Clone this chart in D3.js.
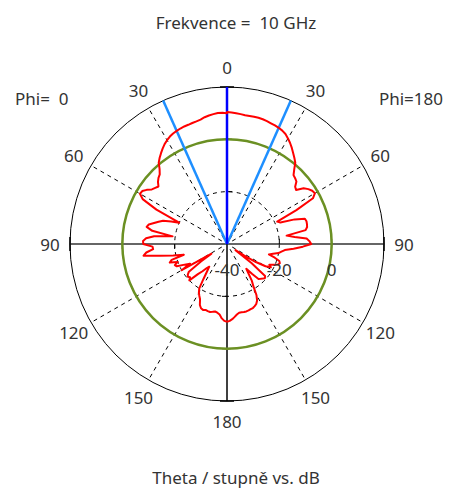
<!DOCTYPE html>
<html>
<head>
<meta charset="utf-8">
<script src="https://cdn.jsdelivr.net/npm/d3@7"></script>
<style>
  body { margin: 0; background: #fff; }
  text { font-family: "Noto Sans", "DejaVu Sans", sans-serif; fill: #333; }
</style>
</head>
<body>
<script>
//chart data
var titleText = "Frekvence =  10 GHz";
var xTitle = "Theta / stupně vs. dB";
var sideLabels = ["Phi=  0", "Phi=180"];
var angleTicks = [0, 30, 60, 90, 120, 150, 180];
var spokeAngles = [30, 60, 120, 150];
var dbTicks = [-40, -20, 0];
var markerMain = 0;          //dark blue marker
var markerBeam = [-24, 24];  //light blue markers

//theta in degrees, step 2
var theta = d3.range(0, 181, 2);

//gain in dB for Phi = 0 (drawn on the left)
var gainPhi0 = [10.0, 10.2, 10.2, 9.9, 9.6, 9.2, 8.6, 8.3, 8.1, 7.9,
    7.8, 7.6, 7.3, 7.0, 6.5, 5.8, 5.0, 4.0, 2.9, 1.8,
    0.6, -1.5, -3.0, -3.6, -4.5, -5.8, -5.2, -4.5, -3.0, -1.8,
    -1.6, -3.5, -10, -20, -17, -14, -12.5, -11, -9.2, -8.6,
    -11, -19, -12, -9, -7.9, -8, -11.5, -11.7, -9, -7.8,
    -14, -19, -23, -18, -17, -20, -18.5, -19, -22, -24,
    -20, -33, -28, -22, -21, -20.5, -21, -20, -24, -26,
    -28, -29, -27, -24, -20, -18.5, -17.5, -16.5, -14.5, -13.5,
    -13.2, -13.5, -13.3, -13.2, -13.5, -13.8, -13.5, -12.9, -11.5, -10.6,
    -10.3];

//gain in dB for Phi = 180 (drawn on the right)
var gainPhi180 = [10.4, 10.3, 10.1, 9.9, 9.7, 9.7, 9.7, 9.7, 9.6, 9.4,
    9.1, 8.9, 8.6, 8.2, 7.6, 6.6, 5.5, 4.3, 3.0, 1.8,
    0.6, -1.6, -3.4, -3.8, -4.3, -6.0, -6.5, -3.8, -2.5, -1.6,
    -1.2, -2.8, -10.5, -19, -18, -12.5, -8.7, -8.4, -8.5, -8.7,
    -9.5, -17, -14, -9.5, -8.5, -7.8, -11, -14.5, -17.8, -19,
    -20, -22, -23.5, -21, -19, -18.5, -19, -20.5, -22, -21,
    -23, -27, -32, -36, -28, -21, -20.5, -21, -21.5, -22,
    -25, -28, -26, -23, -21, -17.5, -15.5, -14.5, -14, -13.6,
    -13.5, -13.3, -13.2, -13.2, -13.3, -13.3, -12.8, -12, -11.2, -10.6,
    -10.3];

window.onload = drawChart();

function drawChart(){
    var width = 451,
        height = 492;
    var cx = 227, cy = 244, R = 157;

    var svg = d3.select("body")
        .append("svg")
        .attr("width", width)
        .attr("height", height);

    //radial scale in dB
    var r = d3.scaleLinear()
        .domain([-40, 20])
        .range([0, R]);

    var rad = function(deg){ return deg * Math.PI / 180; };

    var g = svg.append("g")
        .attr("transform", "translate(" + cx + "," + cy + ")");

    //dashed rings
    g.selectAll(".ring")
        .data(dbTicks.filter(function(d){ return d > -40; }))
        .enter()
        .append("circle")
        .attr("class", "ring")
        .attr("r", function(d){ return r(d); })
        .attr("fill", "none")
        .attr("stroke", "#000")
        .attr("stroke-width", 1)
        .attr("stroke-dasharray", "4,4");

    //dashed spokes on both sides
    var spokes = [];
    spokeAngles.forEach(function(a){ spokes.push(a); spokes.push(-a); });
    g.selectAll(".spoke")
        .data(spokes)
        .enter()
        .append("line")
        .attr("class", "spoke")
        .attr("x1", function(d){ return 6 * Math.sin(rad(d)); })
        .attr("y1", function(d){ return -6 * Math.cos(rad(d)); })
        .attr("x2", function(d){ return R * Math.sin(rad(d)); })
        .attr("y2", function(d){ return -R * Math.cos(rad(d)); })
        .attr("stroke", "#000")
        .attr("stroke-width", 1)
        .attr("stroke-dasharray", "4,4");

    //outer circle
    g.append("circle")
        .attr("r", R)
        .attr("fill", "none")
        .attr("stroke", "#000")
        .attr("stroke-width", 1);

    //main axes
    g.append("line")
        .attr("x1", -R).attr("x2", R)
        .attr("y1", 0).attr("y2", 0)
        .attr("stroke", "#333")
        .attr("stroke-width", 1.5);
    g.append("line")
        .attr("x1", 0).attr("x2", 0)
        .attr("y1", -R).attr("y2", R)
        .attr("stroke", "#000")
        .attr("stroke-width", 1.5);

    //small ticks on axes
    var tickR = [r(-20), r(0)];
    tickR.forEach(function(t){
        g.append("line").attr("x1", -t).attr("x2", -t).attr("y1", 0).attr("y2", 5).attr("stroke", "#000");
        g.append("line").attr("x1", t).attr("x2", t).attr("y1", 0).attr("y2", -5).attr("stroke", "#000");
        g.append("line").attr("x1", 0).attr("x2", -5).attr("y1", t).attr("y2", t).attr("stroke", "#000");
        g.append("line").attr("x1", 0).attr("x2", 5).attr("y1", -t).attr("y2", -t).attr("stroke", "#000");
    });
    //ticks at the outer circle
    g.append("line").attr("x1", -R).attr("x2", -R).attr("y1", -7).attr("y2", 7).attr("stroke", "#000").attr("stroke-width", 1.5);
    g.append("line").attr("x1", R).attr("x2", R).attr("y1", -7).attr("y2", 7).attr("stroke", "#000").attr("stroke-width", 1.5);
    g.append("line").attr("x1", -7).attr("x2", 7).attr("y1", -R).attr("y2", -R).attr("stroke", "#000").attr("stroke-width", 1.5);
    g.append("line").attr("x1", -7).attr("x2", 7).attr("y1", R).attr("y2", R).attr("stroke", "#000").attr("stroke-width", 1.5);

    //0 dB reference circle
    g.append("circle")
        .attr("r", r(0))
        .attr("fill", "none")
        .attr("stroke", "#6b9023")
        .attr("stroke-width", 2.5);

    //marker lines
    g.selectAll(".beam")
        .data(markerBeam)
        .enter()
        .append("line")
        .attr("class", "beam")
        .attr("x1", 0).attr("y1", 0)
        .attr("x2", function(d){ return R * Math.sin(rad(d)); })
        .attr("y2", function(d){ return -R * Math.cos(rad(d)); })
        .attr("stroke", "#1e8fff")
        .attr("stroke-width", 2.5);
    g.append("line")
        .attr("x1", 0).attr("y1", 0)
        .attr("x2", R * Math.sin(rad(markerMain)))
        .attr("y2", -R * Math.cos(rad(markerMain)))
        .attr("stroke", "#0000ff")
        .attr("stroke-width", 2.5);

    //pattern: left half is Phi=0, right half is Phi=180
    var pts = [];
    for (var i = theta.length - 1; i >= 0; i--){
        pts.push([-rad(theta[i]), r(gainPhi0[i])]);
    }
    for (var j = 0; j < theta.length; j++){
        pts.push([rad(theta[j]), r(gainPhi180[j])]);
    }
    var line = d3.lineRadial()
        .angle(function(d){ return d[0]; })
        .radius(function(d){ return d[1]; });
    g.append("path")
        .datum(pts)
        .attr("d", line)
        .attr("fill", "none")
        .attr("stroke", "#ff0000")
        .attr("stroke-width", 2)
        .attr("stroke-linejoin", "round");

    //angle labels on both sides
    var labelR = R + 20;
    var angLabels = [];
    angleTicks.forEach(function(a){
        angLabels.push(a);
        if (a > 0 && a < 180) angLabels.push(-a);
    });
    g.selectAll(".angLabel")
        .data(angLabels)
        .enter()
        .append("text")
        .attr("class", "angLabel")
        .attr("x", function(d){ return labelR * Math.sin(rad(d)); })
        .attr("y", function(d){ return -labelR * Math.cos(rad(d)); })
        .attr("text-anchor", "middle")
        .attr("dominant-baseline", "central")
        .style("font-size", "17px")
        .text(function(d){ return Math.abs(d); });

    //dB labels
    g.selectAll(".dbLabel")
        .data(dbTicks)
        .enter()
        .append("text")
        .attr("class", "dbLabel")
        .attr("x", function(d){ return r(d); })
        .attr("y", 25)
        .attr("text-anchor", "middle")
        .attr("dominant-baseline", "central")
        .style("font-size", "17px")
        .text(function(d){ return d; });

    //side labels
    svg.append("text")
        .attr("x", 15).attr("y", 98)
        .attr("dominant-baseline", "central")
        .style("font-size", "17px")
        .style("white-space", "pre")
        .text(sideLabels[0]);
    svg.append("text")
        .attr("x", 443).attr("y", 98)
        .attr("text-anchor", "end")
        .attr("dominant-baseline", "central")
        .style("font-size", "17px")
        .text(sideLabels[1]);

    //titles
    svg.append("text")
        .attr("x", 236).attr("y", 22)
        .attr("text-anchor", "middle")
        .attr("dominant-baseline", "central")
        .style("font-size", "17px")
        .style("white-space", "pre")
        .text(titleText);
    svg.append("text")
        .attr("x", 236).attr("y", 477)
        .attr("text-anchor", "middle")
        .attr("dominant-baseline", "central")
        .style("font-size", "17px")
        .text(xTitle);
}
</script>
</body>
</html>
